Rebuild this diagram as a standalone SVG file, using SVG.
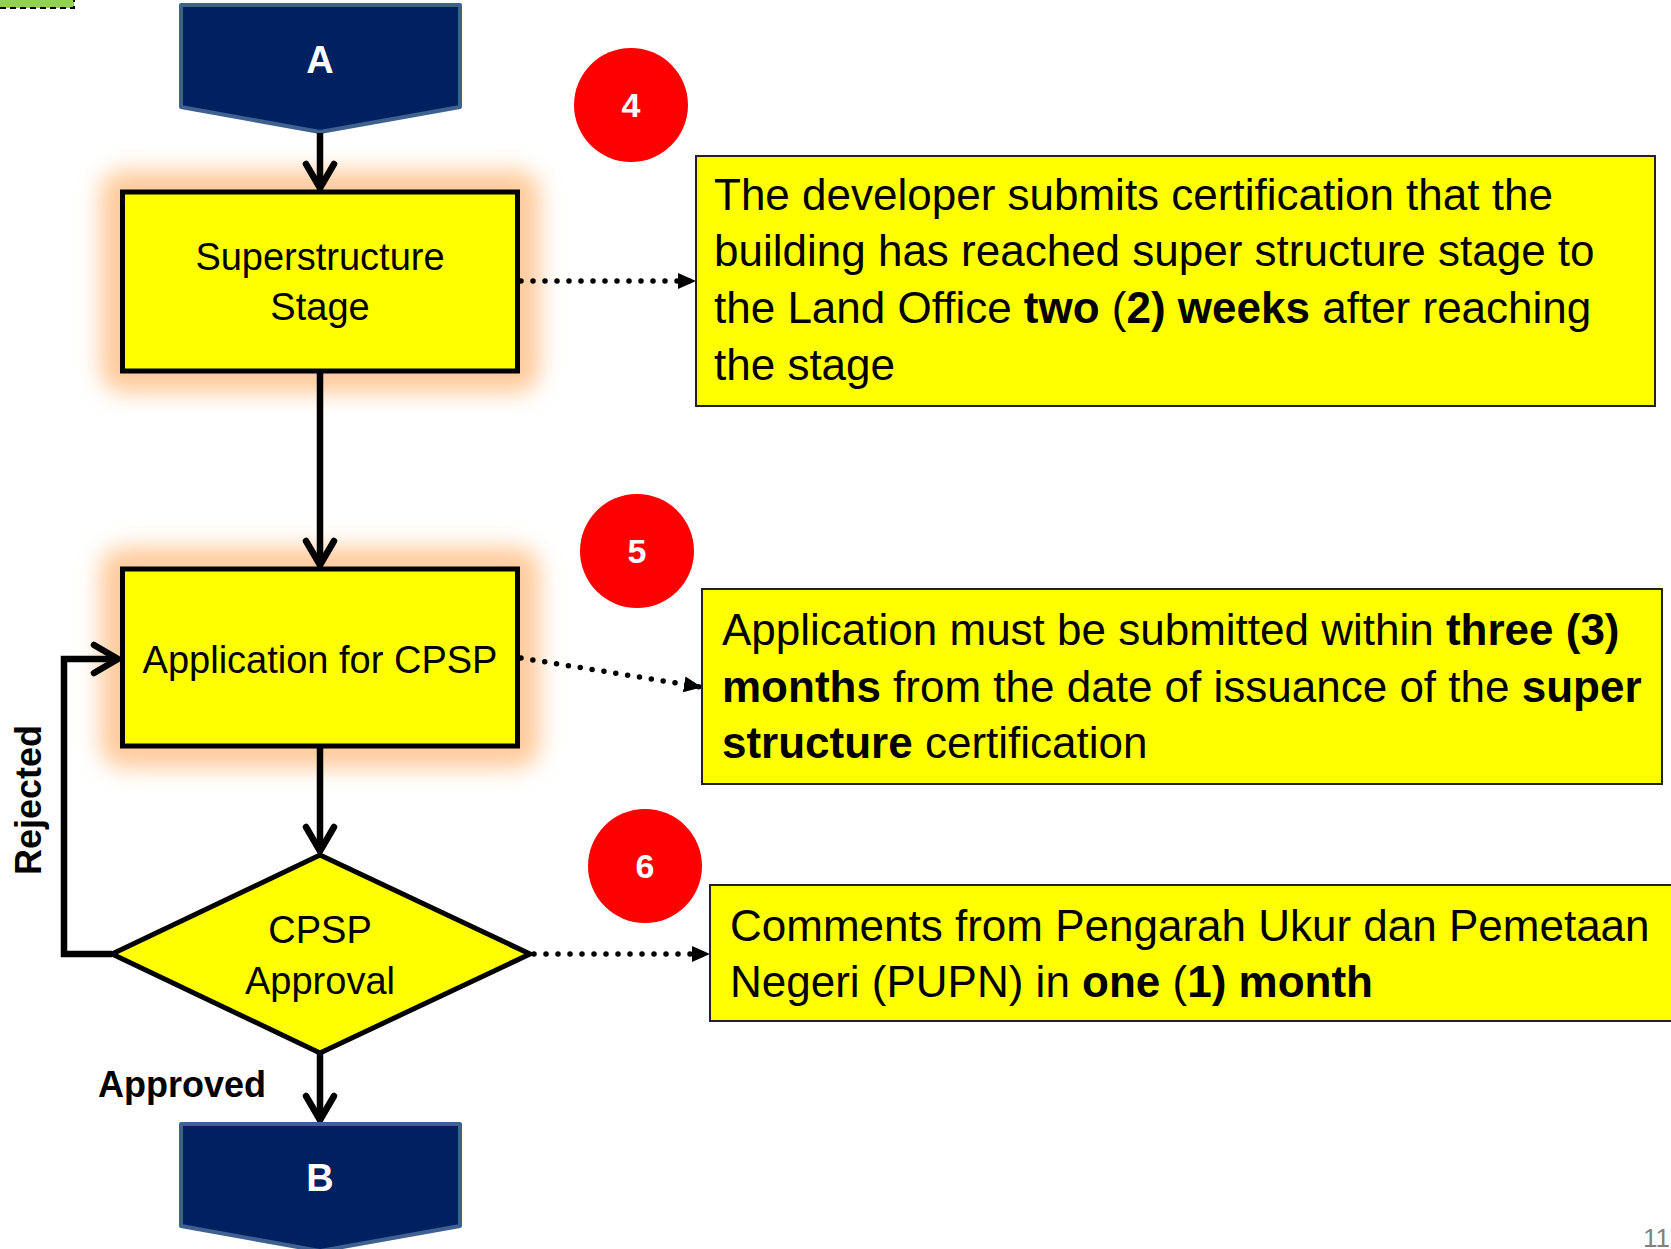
<svg xmlns="http://www.w3.org/2000/svg" width="1671" height="1249" viewBox="0 0 1671 1249">
<style>
.node{fill:#FFFF00;stroke:#000;stroke-width:5;}
.call{fill:#FFFF00;stroke:#222;stroke-width:2;}
.term{fill:#002060;stroke:#3E6190;stroke-width:4;stroke-linejoin:round;}
.glow{fill:#FFCB9C;filter:url(#blur);}
.nt{font-family:"Liberation Sans",Arial,sans-serif;font-size:38px;fill:#000;text-anchor:middle;}
.ct{font-family:"Liberation Sans",Arial,sans-serif;font-size:44px;fill:#000;}
.b{font-weight:bold;}
.tt{font-family:"Liberation Sans",Arial,sans-serif;font-size:38px;font-weight:bold;fill:#fff;text-anchor:middle;}
.num{font-family:"Liberation Sans",Arial,sans-serif;font-size:34px;font-weight:bold;fill:#fff;text-anchor:middle;}
.lbl{font-family:"Liberation Sans",Arial,sans-serif;font-size:36px;font-weight:bold;fill:#000;}
.solid{fill:none;stroke:#000;stroke-width:6.5;marker-end:url(#chev);}
.dot{fill:none;stroke:#000;stroke-width:5.5;stroke-dasharray:0 12;stroke-linecap:round;marker-end:url(#tri);}
</style>
<defs>
<filter id="blur" x="-30%" y="-30%" width="160%" height="160%"><feGaussianBlur stdDeviation="11"/></filter>
<marker id="chev" markerUnits="userSpaceOnUse" viewBox="-30 -20 36 40" markerWidth="36" markerHeight="40" refX="0" refY="0" orient="auto" overflow="visible">
<path d="M-24,-14 L0,0 L-24,14" fill="none" stroke="#000" stroke-width="6.5" stroke-linecap="round" stroke-linejoin="round"/>
</marker>
<marker id="tri" markerUnits="userSpaceOnUse" viewBox="0 0 18 16" markerWidth="18" markerHeight="16" refX="17" refY="8" orient="auto">
<path d="M0,0 L18,8 L0,16 z" fill="#000"/>
</marker>
</defs>

<rect x="-10" y="-40" width="84" height="48" fill="#92D050" stroke="#000" stroke-width="2" stroke-dasharray="6 4"/>

<g id="nodeA">
<path class="term" d="M181,5 H460 V107 L320,132 L181,107 Z"/>
<text class="tt" x="320" y="73">A</text>
</g>

<g id="superstructure">
<rect class="glow" x="100" y="170" width="440" height="223" rx="24"/>
<rect class="node" x="122.5" y="192" width="395" height="179"/>
<text class="nt" x="320" y="270">Superstructure</text>
<text class="nt" x="320" y="320">Stage</text>
</g>

<g id="application">
<rect class="glow" x="100" y="547" width="440" height="221" rx="24"/>
<rect class="node" x="122.5" y="569" width="395" height="177"/>
<text class="nt" x="320" y="673">Application for CPSP</text>
</g>

<g id="connectors">
<path class="solid" d="M320,133 V188"/>
<path class="solid" d="M320,373 V565"/>
<path class="solid" d="M320,748 V851"/>
<path class="solid" d="M320,1053 V1120"/>
<path class="solid" d="M112,954 H64 V659 H118"/>
<path class="dot" d="M521,281 H695"/>
<path class="dot" d="M521,658 L701,687"/>
<path class="dot" d="M534,954 H709"/>
</g>

<g id="approval">
<path class="node" d="M112,954 L320,855 L530,954 L320,1053 Z" stroke-linejoin="miter"/>
<text class="nt" x="320" y="943">CPSP</text>
<text class="nt" x="320" y="994">Approval</text>
</g>

<g id="nodeB">
<path class="term" d="M181,1124 H460 V1226 L320,1251 L181,1226 Z"/>
<text class="tt" x="320" y="1191">B</text>
</g>

<g id="circle4">
<circle cx="631" cy="105" r="57" fill="#FF0000"/>
<text class="num" x="631" y="117">4</text>
</g>
<g id="circle5">
<circle cx="637" cy="551" r="57" fill="#FF0000"/>
<text class="num" x="637" y="563">5</text>
</g>
<g id="circle6">
<circle cx="645" cy="866" r="57" fill="#FF0000"/>
<text class="num" x="645" y="878">6</text>
</g>

<g id="callout1">
<rect class="call" x="696" y="156" width="959" height="250"/>
<text class="ct" x="714" y="210">The developer submits certification that the</text>
<text class="ct" x="714" y="266">building has reached super structure stage to</text>
<text class="ct" x="714" y="323">the Land Office <tspan class="b">two</tspan> (<tspan class="b">2) weeks</tspan> after reaching</text>
<text class="ct" x="714" y="380">the stage</text>
</g>

<g id="callout2">
<rect class="call" x="702" y="589" width="960" height="195"/>
<text class="ct" x="722" y="645">Application must be submitted within <tspan class="b">three (3)</tspan></text>
<text class="ct" x="722" y="702"><tspan class="b">months</tspan> from the date of issuance of the <tspan class="b">super</tspan></text>
<text class="ct" x="722" y="758"><tspan class="b">structure</tspan> certification</text>
</g>

<g id="callout3">
<rect class="call" x="710" y="885" width="962" height="136"/>
<text class="ct" x="730" y="941">Comments from Pengarah Ukur dan Pemetaan</text>
<text class="ct" x="730" y="997">Negeri (PUPN) in <tspan class="b">one</tspan> (<tspan class="b">1) month</tspan></text>
</g>

<text class="lbl" transform="translate(41,800) rotate(-90)" text-anchor="middle">Rejected</text>
<text class="lbl" x="98" y="1097">Approved</text>
<text x="1643" y="1247" font-family="Liberation Sans,Arial,sans-serif" font-size="26" fill="#808080">11</text>
</svg>
